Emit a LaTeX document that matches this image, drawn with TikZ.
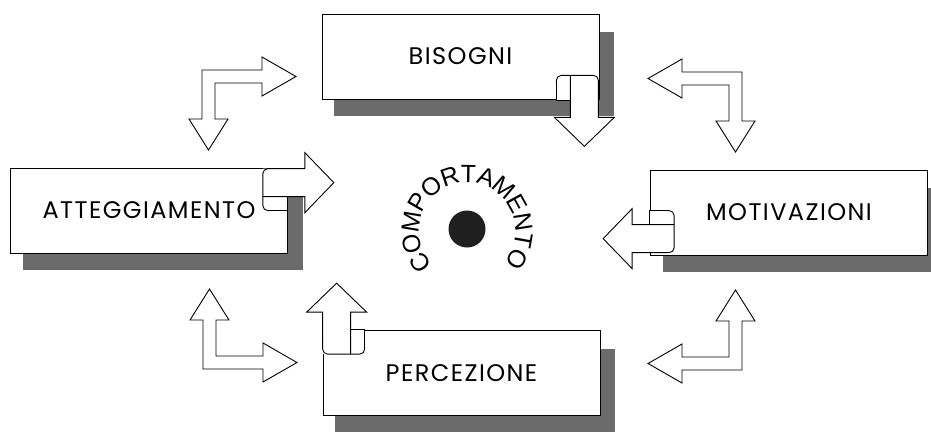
\documentclass[tikz,border=0pt]{standalone}
\usepackage{fontspec}
\setmainfont{Poppins}[LetterSpace=6]
\newfontfamily\arcfont{Liberation Sans}
\usetikzlibrary{calc}

% curled ribbon arrow, pointing along +x, fold on the clockwise side
\newcommand{\curlshape}{%
  \fill[white] (0,-14) rectangle (25,28);
  \fill[white] (0,-14) -- (42,-14) -- (42,-30) -- (71,0) -- (42,30) -- (42,14) -- (0,14) -- cycle;
  \draw[arrowline] (25,14) -- (25,28) -- (6,28);
  \draw[arrowline, rounded corners=5] (7,28) -- (0,28) -- (0,-14) -- (12,-14);
  \draw[arrowline] (11,-14) -- (42,-14) -- (42,-30) -- (71,0) -- (42,30) -- (42,14) -- (0,14);
}
% double-headed elbow arrow, outer corner at the origin
\newcommand{\elbowshape}{%
  \draw[arrowline, fill=white] (0,0) -- (60,0) -- (60,-13) -- (94,6.5) -- (60,26) -- (60,13)
    -- (13,13) -- (13,49) -- (26,49) -- (6.5,80) -- (-13,49) -- (0,49) -- cycle;
}

\begin{document}
\begin{tikzpicture}[x=1pt, y=-1pt,
  box/.style={draw=black, line width=0.7pt, fill=white, minimum width=277pt,
    minimum height=85pt, inner sep=0pt, font=\fontsize{24}{27}\selectfont},
  shade/.style={fill=black!58},
  arrowline/.style={line width=0.9pt, line join=miter},
  arcletter/.style={inner sep=0pt, font=\arcfont\fontsize{25}{28}\selectfont}]
\useasboundingbox (0,0) rectangle (931,431);

% the four boxes
\coordinate (bisc) at (460.5,56.5);
\coordinate (attc) at (149,210.5);
\coordinate (motc) at (789,212.5);
\coordinate (perc) at (461.5,373);

\foreach \c in {bisc,attc,motc,perc}{
  \fill[shade] ($(\c)+(-126.5,-24.5)$) rectangle ($(\c)+(153.5,59.5)$);
}

\node[box] (bis) at (bisc) {BISOGNI};
\node[box] (att) at (attc) {ATTEGGIAMENTO};
\node[box] (mot) at (motc) {MOTIVAZIONI};
\node[box] (per) at (perc) {PERCEZIONE};

% curled arrows leaving each box
\begin{scope}[shift={($(att.north east)+(-25,15)$)}]
  \curlshape
\end{scope}
\begin{scope}[shift={($(bis.south east)+(-15,-24)$)}, rotate=-90]
  \curlshape
\end{scope}
\begin{scope}[shift={($(mot.north west)+(24,69)$)}, rotate=180]
  \curlshape
\end{scope}
\begin{scope}[shift={($(per.north west)+(14,24)$)}, rotate=90]
  \curlshape
\end{scope}

% elbow arrows between the boxes
\begin{scope}[shift={(202,70)}]
  \elbowshape
\end{scope}
\begin{scope}[shift={(742,72)}, xscale=-1]
  \elbowshape
\end{scope}
\begin{scope}[shift={(203,369)}, yscale=-1]
  \elbowshape
\end{scope}
\begin{scope}[shift={(742,370)}, xscale=-1, yscale=-1]
  \elbowshape
\end{scope}

% centre: dot with the word set letter by letter on an arc round it
\node[circle, fill=black!88, minimum size=37pt, inner sep=0pt] (dot) at (467,229) {};
\foreach \ch/\ang [count=\i] in {
  C/214, O/193, M/170.6, P/149.6, O/129.2, R/108.2, T/89.1,
  A/70.7, M/49.7, E/28.7, N/9, T/-10.1, O/-29.9}{
  \node[arcletter, rotate=\ang-90] (arc\i)
    at ({467.5+57*cos(\ang)}, {231-57*sin(\ang)}) {\ch};
}
\end{tikzpicture}
\end{document}
